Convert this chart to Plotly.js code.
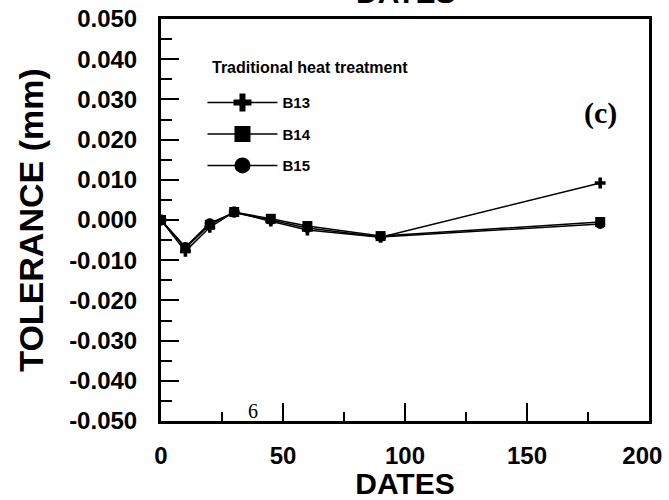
<!DOCTYPE html>
<html>
<head>
<meta charset="utf-8">
<script src="https://cdn.plot.ly/plotly-3.0.1.min.js"></script>
<style>html,body{margin:0;padding:0;background:#fff;}#chart{width:669px;height:500px;}</style>
</head>
<body>
<div id="chart"></div>
<script>
var days = [0, 10, 20, 30, 45, 60, 90, 180];
var seriesNames = ["B13", "B14", "B15"];
var b13 = [0.0000, -0.0078, -0.0018, 0.0020, -0.0003, -0.0025, -0.0043, 0.0092];
var b14 = [0.0000, -0.0070, -0.0012, 0.0020, 0.0003, -0.0015, -0.0040, -0.0005];
var b15 = [0.0000, -0.0067, -0.0008, 0.0018, 0.0000, -0.0020, -0.0042, -0.0010];
var yTickVals = [0.05, 0.04, 0.03, 0.02, 0.01, 0, -0.01, -0.02, -0.03, -0.04, -0.05];
var yTickText = ["0.050", "0.040", "0.030", "0.020", "0.010", "0.000", "-0.010", "-0.020", "-0.030", "-0.040", "-0.050"];
var xTickVals = [0, 50, 100, 150, 200];
var xTickText = ["0", "50", "100", "150", "200\u00a0\u00a0"];
var legendTitle = "Traditional heat treatment";

var FONT = "Arial, 'Liberation Sans', sans-serif";
var SERIF = "'Times New Roman', 'Liberation Serif', serif";
var lineStyle = {color: "black", width: 1.5};

var traces = [
  {x: days, y: b13, mode: "lines+markers", name: seriesNames[0], showlegend: false,
   line: lineStyle, marker: {symbol: "cross", size: 9, color: "black"}},
  {x: days, y: b15, mode: "lines+markers", name: seriesNames[2], showlegend: false,
   line: lineStyle, marker: {symbol: "circle", size: 10, color: "black"}},
  {x: days, y: b14, mode: "lines+markers", name: seriesNames[1], showlegend: false,
   line: lineStyle, marker: {symbol: "square", size: 10, color: "black"}},
  // legend entries (larger symbols, no data)
  {x: [null], y: [null], mode: "lines+markers", name: seriesNames[0], legendgroup: "a",
   line: lineStyle, marker: {symbol: "cross", size: 15, color: "black"}},
  {x: [null], y: [null], mode: "lines+markers", name: seriesNames[1], legendgroup: "b",
   line: lineStyle, marker: {symbol: "square", size: 16, color: "black"}},
  {x: [null], y: [null], mode: "lines+markers", name: seriesNames[2], legendgroup: "c",
   line: lineStyle, marker: {symbol: "circle", size: 16, color: "black"}}
];

var layout = {
  width: 669, height: 500,
  margin: {l: 161, r: 20, t: 19, b: 79},
  paper_bgcolor: "white", plot_bgcolor: "white",
  font: {family: FONT, color: "black"},
  showlegend: true,
  legend: {
    x: 0.085, y: 0.833, xanchor: "left", yanchor: "top",
    bgcolor: "rgba(0,0,0,0)", borderwidth: 0,
    traceorder: "grouped", tracegroupgap: 9, itemwidth: 70,
    font: {family: FONT, size: 15, color: "black", weight: "bold"}
  },
  xaxis: {
    range: [0, 200], tickvals: xTickVals, ticktext: xTickText,
    ticks: "inside", ticklen: 18, tickwidth: 2, tickcolor: "black",
    minor: {dtick: 25, tick0: 0, ticks: "inside", ticklen: 9, tickwidth: 2, tickcolor: "black"},
    showline: true, linewidth: 3, linecolor: "black", mirror: true,
    showgrid: false, zeroline: false,
    ticklabeloverflow: "allow", ticklabelstandoff: 11,
    tickfont: {family: FONT, size: 24, weight: "bold"},
    title: {text: "DATES", standoff: 22, font: {family: FONT, size: 30, weight: "bold"}}
  },
  yaxis: {
    range: [-0.05, 0.05], tickvals: yTickVals, ticktext: yTickText,
    ticks: "inside", ticklen: 18, tickwidth: 2, tickcolor: "black",
    minor: {dtick: 0.005, tick0: 0, ticks: "inside", ticklen: 11, tickwidth: 2, tickcolor: "black"},
    showline: true, linewidth: 3, linecolor: "black", mirror: true,
    showgrid: false, zeroline: false,
    ticklabelstandoff: 16,
    tickfont: {family: FONT, size: 24, weight: "bold"},
    title: {text: "TOLERANCE (mm)", standoff: 16, font: {family: FONT, size: 34, weight: "bold"}}
  },
  annotations: [
    {text: "DATES", xref: "paper", yref: "paper", x: 0.5, y: 1.065, xanchor: "center", yanchor: "middle",
     showarrow: false, font: {family: FONT, size: 30, weight: "bold", color: "black"}},
    {text: legendTitle, xref: "paper", yref: "paper", x: 0.1, y: 0.88, xanchor: "left", yanchor: "middle",
     showarrow: false, font: {family: FONT, size: 16, weight: "bold", color: "black"}},
    {text: "(c)", xref: "x", yref: "y", x: 180, y: 0.0265, xanchor: "center", yanchor: "middle",
     showarrow: false, font: {family: SERIF, size: 30, weight: "bold", color: "black"}},
    {text: "6", xref: "x", yref: "y", x: 37.5, y: -0.0475, xanchor: "center", yanchor: "middle",
     showarrow: false, font: {family: SERIF, size: 20, color: "black"}}
  ]
};

Plotly.newPlot("chart", traces, layout, {staticPlot: true, displayModeBar: false});
</script>
</body>
</html>
